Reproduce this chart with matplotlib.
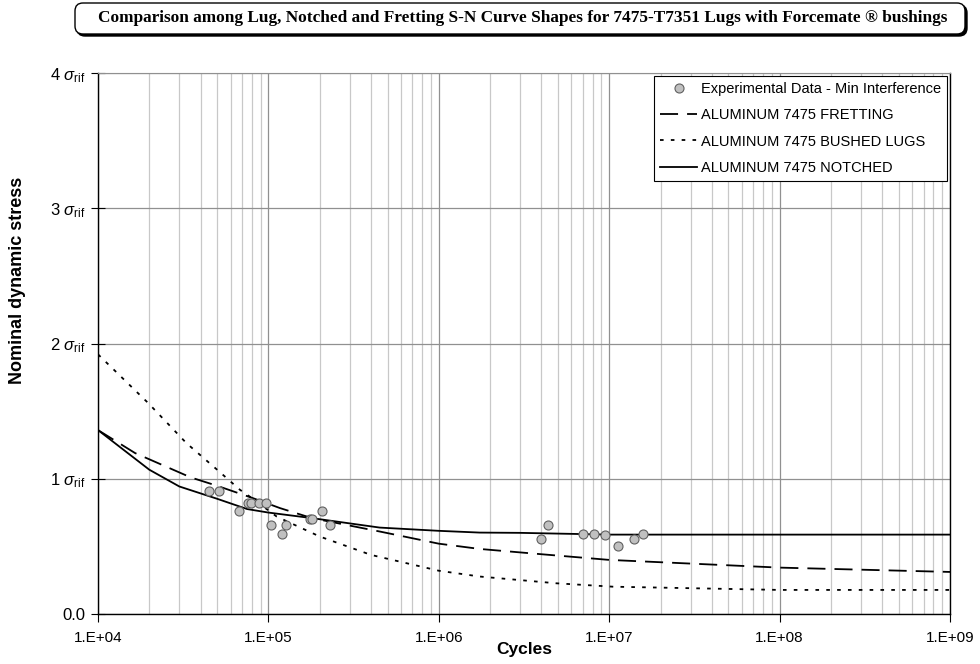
import numpy as np
import matplotlib
matplotlib.use('Agg')
import matplotlib.pyplot as plt
from matplotlib.patches import FancyBboxPatch
from matplotlib.ticker import LogLocator, FixedLocator, NullFormatter

# experimental data - min interference
exp_cycles = [4.5e4, 5.1e4, 6.7e4, 7.6e4, 7.9e4, 8.8e4, 9.7e4, 1.03e5, 1.2e5, 1.27e5,
              1.75e5, 1.8e5, 2.07e5, 2.3e5,
              4.0e6, 4.36e6, 7.0e6, 8.1e6, 9.45e6, 1.12e7, 1.4e7, 1.58e7]
exp_stress = [0.91, 0.91, 0.76, 0.82, 0.82, 0.82, 0.82, 0.66, 0.595, 0.66,
              0.70, 0.70, 0.76, 0.66,
              0.553, 0.657, 0.593, 0.593, 0.587, 0.504, 0.553, 0.593]

# S-N curves
fret_cycles = [1e4, 1.65e4, 3.5e4, 5e4, 8.1e4, 1.17e5, 1.8e5, 4.5e5, 1e6, 1.74e6, 4e6, 1e7, 1e8, 1e9]
fret_stress = [1.36, 1.19, 1.01, 0.948, 0.857, 0.783, 0.709, 0.61, 0.52, 0.481, 0.442, 0.40, 0.343, 0.311]

bush_cycles = [1e4, 1.97e4, 3.3e4, 5e4, 6.8e4, 8e4, 1.12e5, 2e5, 4e5, 1e6, 1.74e6, 4.9e6, 1.05e7, 1e8, 1e9]
bush_stress = [1.92, 1.56, 1.264, 1.067, 0.919, 0.857, 0.72, 0.573, 0.437, 0.32, 0.277, 0.227, 0.202, 0.178, 0.178]

notch_cycles = [1e4, 2e4, 3e4, 5e4, 7.5e4, 1e5, 1.8e5, 4.5e5, 1e6, 1.74e6, 3e6, 1e7, 1e9]
notch_stress = [1.36, 1.067, 0.943, 0.852, 0.776, 0.75, 0.709, 0.639, 0.615, 0.602, 0.60, 0.587, 0.587]

y_ticks = [0, 1, 2, 3, 4]
y_labels = ['0.0', r'1 $\sigma_{\rm rif}$', r'2 $\sigma_{\rm rif}$', r'3 $\sigma_{\rm rif}$', r'4 $\sigma_{\rm rif}$']
x_ticks = [1e4, 1e5, 1e6, 1e7, 1e8, 1e9]
x_labels = ['1.E+04', '1.E+05', '1.E+06', '1.E+07', '1.E+08', '1.E+09']

title = 'Comparison among Lug, Notched and Fretting S-N Curve Shapes for 7475-T7351 Lugs with Forcemate \u00ae bushings'

plt.rcParams['font.family'] = ['Liberation Sans', 'DejaVu Sans']
plt.rcParams['mathtext.fontset'] = 'custom'
plt.rcParams['mathtext.it'] = 'Liberation Sans:italic'
plt.rcParams['mathtext.rm'] = 'Liberation Sans'

fig = plt.figure(figsize=(9.8, 6.64), dpi=100)
ax = fig.add_axes([0.1, 0.0753, 0.8694, 0.8147])

ax.plot(exp_cycles, exp_stress, 'o', color='#c0c0c0', markeredgecolor='#606060',
        markeredgewidth=0.8, markersize=6.5, label='Experimental Data - Min Interference', zorder=5)
ax.plot(fret_cycles, fret_stress, color='black', lw=1.3, dashes=(10, 5),
        label='ALUMINUM 7475 FRETTING')
ax.plot(bush_cycles, bush_stress, color='black', lw=1.3, dashes=(2, 4),
        label='ALUMINUM 7475 BUSHED LUGS')
ax.plot(notch_cycles, notch_stress, color='black', lw=1.3,
        label='ALUMINUM 7475 NOTCHED')

ax.set_xscale('log')
ax.set_xlim(1e4, 1e9)
ax.set_ylim(0, 4)
ax.xaxis.set_major_locator(FixedLocator(x_ticks))
ax.set_xticklabels(x_labels)
ax.xaxis.set_minor_locator(LogLocator(base=10, subs=np.arange(2, 10)))
ax.xaxis.set_minor_formatter(NullFormatter())
ax.set_yticks(y_ticks)
ax.set_yticklabels(y_labels)

ax.grid(True, which='major', color='#909090', lw=0.9)
ax.grid(True, which='minor', axis='x', color='#c8c8c8', lw=0.9)
ax.set_axisbelow(True)

ax.tick_params(axis='x', which='major', direction='out', length=6, labelsize=11, pad=6)
ax.tick_params(axis='x', which='minor', length=0)
ax.tick_params(axis='y', direction='inout', length=10, labelsize=12, pad=4)

for s in ['left', 'bottom', 'right']:
    ax.spines[s].set_color('black')
    ax.spines[s].set_linewidth(1.0)
ax.spines['top'].set_color('#909090')

ax.set_xlabel('Cycles', fontsize=12.5, fontweight='bold', labelpad=-2)
ax.set_ylabel('Nominal dynamic stress', fontsize=13, fontweight='bold')
ax.yaxis.set_label_coords(-0.084, 0.617)

leg = ax.legend(loc='upper right', fontsize=10.5, frameon=True, fancybox=False,
                edgecolor='black', framealpha=1, borderaxespad=0.2, handlelength=2.5,
                handletextpad=0.3, labelspacing=0.85, borderpad=0.4)
leg.get_frame().set_linewidth(0.8)

# title box with shadow (inches)
shadow = FancyBboxPatch((0.77, 6.28), 8.90, 0.31, boxstyle='round,pad=0,rounding_size=0.08',
                        transform=fig.dpi_scale_trans, facecolor='black', edgecolor='black', lw=1.0)
box = FancyBboxPatch((0.75, 6.30), 8.90, 0.31, boxstyle='round,pad=0,rounding_size=0.08',
                     transform=fig.dpi_scale_trans, facecolor='white', edgecolor='black', lw=1.0)
fig.patches.extend([shadow, box])
fig.text(0.533, 0.9725, title, ha='center', va='center', fontsize=12.4, fontweight='bold',
         family='Liberation Serif')

fig.savefig('out.png', dpi=100)
